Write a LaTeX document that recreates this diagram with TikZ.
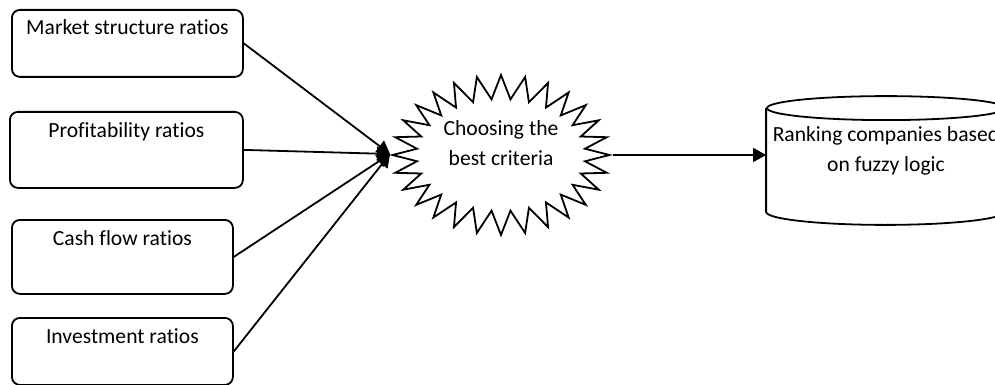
\documentclass[tikz,border=0pt]{standalone}
\usepackage{fontspec}
\setmainfont{Carlito}[Ligatures=NoCommon]
\usetikzlibrary{arrows.meta,calc,shapes.symbols,positioning}

\begin{document}
\begin{tikzpicture}[x=1pt,y=-1pt,>={Triangle[length=13pt,width=14pt]},line width=1.8pt,
	font=\fontsize{21.6}{30}\selectfont,
	ratiobox/.style={draw,rounded corners=8pt,anchor=north west,inner sep=0pt},
	burst/.style={draw,starburst,random starburst=0,starburst points=28,starburst point height=24pt,minimum width=217pt,minimum height=160pt,inner sep=0pt}]
		\useasboundingbox (0,0) rectangle (995,385);
		\node[ratiobox,minimum width=231pt,minimum height=67pt] (market) at (11,9) {};
		\node[ratiobox,minimum width=233pt,minimum height=76pt] (profit) at (9,111) {};
		\node[ratiobox,minimum width=221pt,minimum height=74pt] (cash) at (11,219) {};
		\node[ratiobox,minimum width=221pt,minimum height=67pt] (invest) at (11,317) {};
		\node[anchor=base] (market-t) at ($(market.north)+(0,26)$) {Market structure ratios};
		\node[anchor=base] (profit-t) at ($(profit.north)+(0,27)$) {Profitability ratios};
		\node[anchor=base] (cash-t) at ($(cash.north)+(0,26)$) {Cash flow ratios};
		\node[anchor=base] (invest-t) at ($(invest.north)+(0,26)$) {Investment ratios};
		\node[burst] (choose) at (501,155) {};
		\node[align=center] (choose-t) at (501,143) {Choosing the\\best criteria};
		\node[minimum width=238pt,minimum height=102pt,inner sep=0pt] (rank) at (886,160) {};
		\draw (rank.north west) -- (rank.south west) arc[start angle=180,end angle=0,x radius=119,y radius=13] -- (rank.north east);
		\draw (rank.north) ellipse[x radius=119,y radius=12];
		\node[align=center] (rank-t) at (886,151) {Ranking companies based\\on fuzzy logic};
		\coordinate (hub) at (390,154);
		\draw[->] (market.east) -- (hub);
		\draw[->] (profit.east) -- (hub);
		\draw[->] (cash.east) -- (hub);
		\draw[->] (invest.east) -- (hub);
		\draw[->] (choose.east) -- (choose.east -| rank.west);
	\end{tikzpicture}
\end{document}
